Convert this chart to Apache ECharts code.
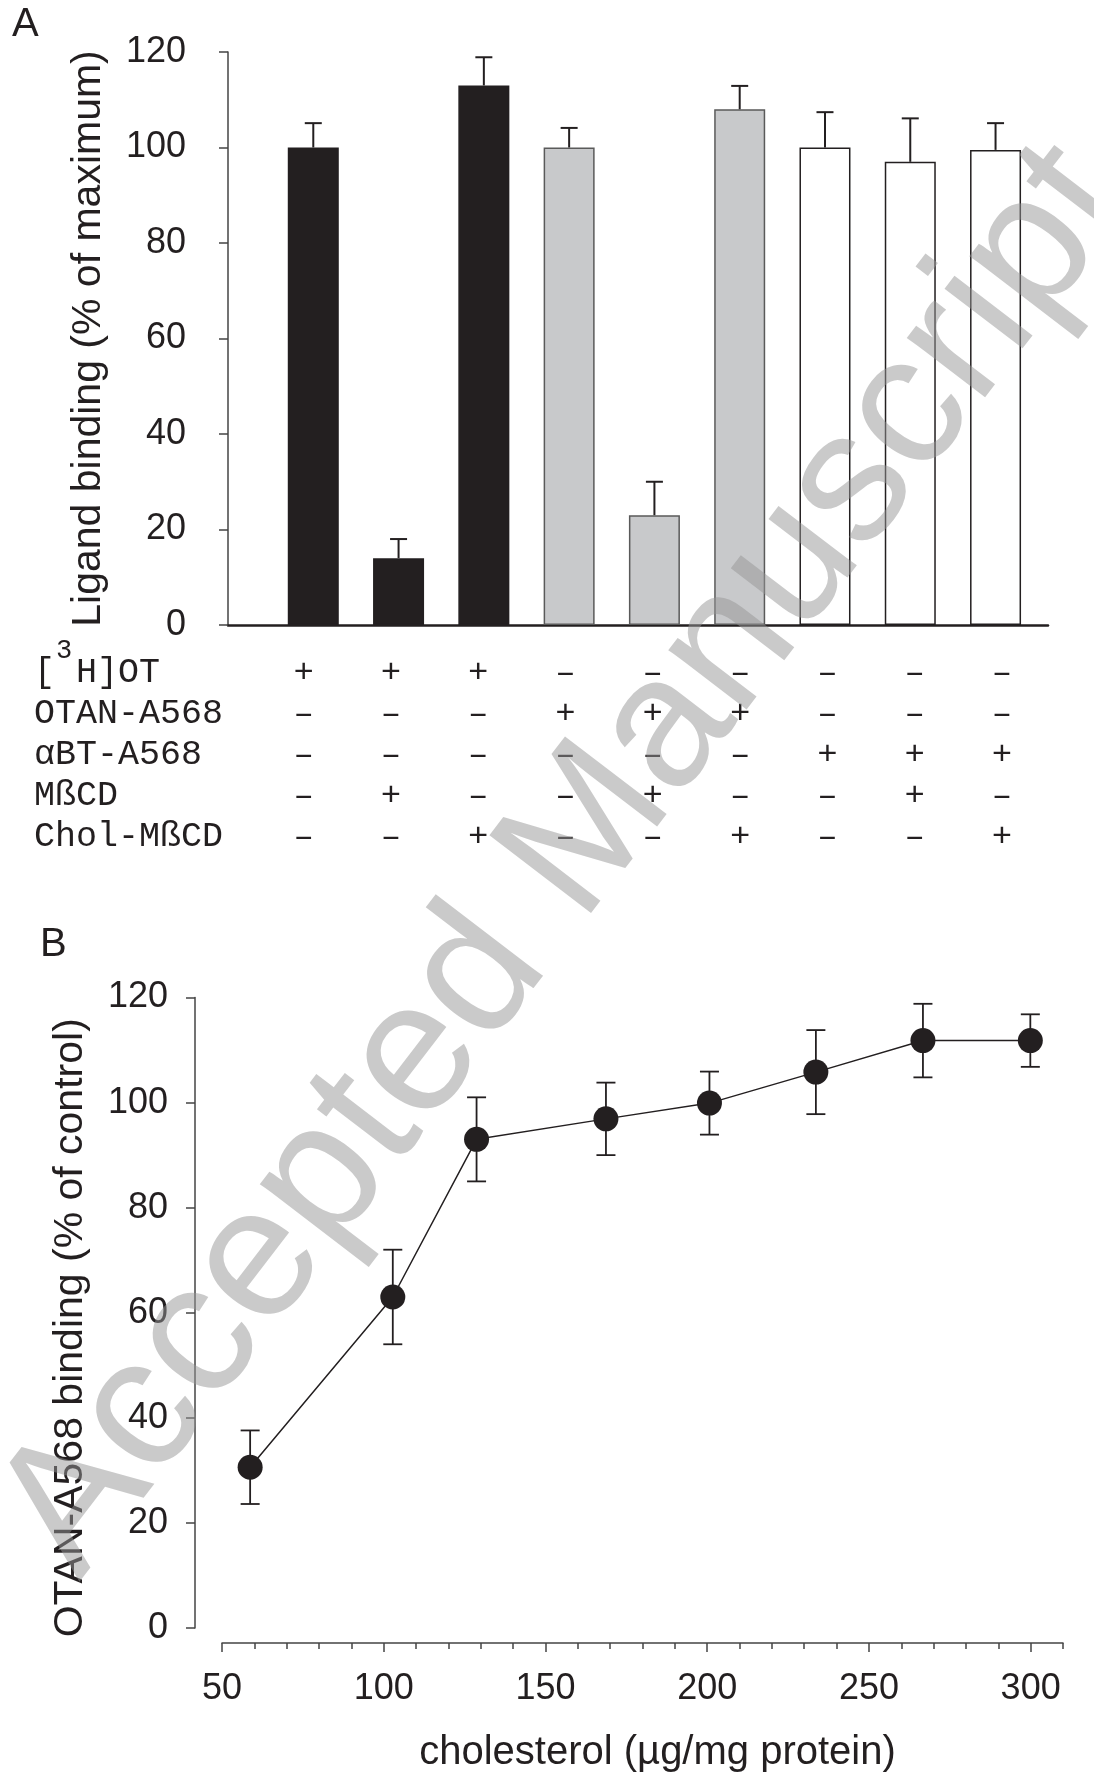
<!DOCTYPE html>
<html><head><meta charset="utf-8">
<script src="https://cdn.jsdelivr.net/npm/echarts@6/dist/echarts.min.js"></script>
<style>html,body{margin:0;padding:0;background:#fff}#c{width:1094px;height:1777px}</style>
</head><body><div id="c"></div>
<script>
// ---------- Panel A data ----------
const conditionLabels = ['[3H]OT', 'OTAN-A568', 'αBT-A568', 'MßCD', 'Chol-MßCD'];
const conditions = [
  ['+', '+', '+', '–', '–', '–', '–', '–', '–'],
  ['–', '–', '–', '+', '+', '+', '–', '–', '–'],
  ['–', '–', '–', '–', '–', '–', '+', '+', '+'],
  ['–', '+', '–', '–', '+', '–', '–', '+', '–'],
  ['–', '–', '+', '–', '–', '+', '–', '–', '+']
];
const barPositions = [1, 2, 3, 4, 5, 6, 7, 8, 9];
const bindingA = [100, 14, 113, 100, 23, 108, 100, 97, 99.5];
const semA = [5.1, 4.0, 5.9, 4.1, 7.0, 4.9, 7.4, 9.1, 5.6];
const yTicksA = [0, 20, 40, 60, 80, 100, 120];

// ---------- Panel B data ----------
const cholesterol = [58.7, 102.8, 128.7, 168.7, 200.7, 233.6, 266.7, 299.9];
const bindingB = [30.6, 63.0, 93.0, 96.9, 99.9, 105.8, 111.8, 111.8];
const semB = [7.0, 9.0, 8.0, 6.9, 6.0, 8.0, 7.0, 5.0];
const xTicksB = [50, 100, 150, 200, 250, 300];
const yTicksB = [0, 20, 40, 60, 80, 100, 120];

// ---------- styling ----------
const INK = '#231f20';
const AX = '#444444';
const SANS = 'Liberation Sans, Arial, sans-serif';
const MONO = 'Liberation Mono, Courier New, monospace';
const ligandFill = ['#231f20', '#c8c9cb', '#ffffff'];
const ligandBorder = ['#231f20', '#5a5a5a', '#231f20'];
function ligandOf(i) {
  for (let r = 0; r < 3; r++) if (conditions[r][i] === '+') return r;
  return 0;
}

function errRender(capHalf, twoSided, lw) {
  return function (params, api) {
    const x = api.value(0), y = api.value(1), e = api.value(2);
    const top = api.coord([x, y + e]);
    const bot = api.coord([x, twoSided ? y - e : y]);
    const st = { stroke: INK, lineWidth: lw };
    const ch = [
      { type: 'line', shape: { x1: top[0], y1: top[1], x2: bot[0], y2: bot[1] }, style: st },
      { type: 'line', shape: { x1: top[0] - capHalf, y1: top[1], x2: top[0] + capHalf, y2: top[1] }, style: st }
    ];
    if (twoSided) ch.push({ type: 'line', shape: { x1: bot[0] - capHalf, y1: bot[1], x2: bot[0] + capHalf, y2: bot[1] }, style: st });
    return { type: 'group', children: ch };
  };
}

const rowY = [673, 714, 755, 796, 837];
const graphics = [
  { type: 'text', left: 12, top: 5, style: { text: 'A', fontSize: 40, fontFamily: SANS, fill: INK } },
  { type: 'text', left: 40, top: 925, style: { text: 'B', fontSize: 40, fontFamily: SANS, fill: INK } }
];
conditionLabels.forEach((lab, r) => {
  if (lab.indexOf('3') === 1 && lab[0] === '[') {
    graphics.push({ type: 'text', x: 34, y: rowY[r], style: { text: '[ ' + lab.slice(2), fontSize: 35, fontFamily: MONO, fill: INK, verticalAlign: 'middle', align: 'left' } });
    graphics.push({ type: 'text', x: 56, y: rowY[r] - 22, style: { text: '3', fontSize: 27, fontFamily: MONO, fill: INK, verticalAlign: 'middle', align: 'left' } });
  } else {
    graphics.push({ type: 'text', x: 34, y: rowY[r], style: { text: lab, fontSize: 35, fontFamily: MONO, fill: INK, verticalAlign: 'middle', align: 'left' } });
  }
});
graphics.push({
  type: 'text', x: 566, y: 861, rotation: 52.6 * Math.PI / 180, z: 100,
  style: { text: 'Accepted Manuscript', fontSize: 186, fontFamily: SANS, fill: 'rgba(150,150,150,0.5)', align: 'center', verticalAlign: 'middle' }
});

const option = {
  backgroundColor: '#ffffff',
  animation: false,
  grid: [
    { left: 228, top: 52, width: 820, height: 573 },
    { left: 222, top: 997.5, width: 841, height: 630.5 }
  ],
  xAxis: [
    {
      gridIndex: 0, type: 'value', position: 'bottom', min: 0, max: 9.615,
      axisLine: { show: true, onZero: false, lineStyle: { color: INK, width: 2.5 } },
      axisTick: { show: false }, axisLabel: { show: false }, splitLine: { show: false }
    },
    {
      // condition table under panel A (text only, aligned under the bars)
      gridIndex: 0, type: 'value', position: 'bottom', min: 0.134, max: 9.527,
      axisLine: { show: false, onZero: false }, axisTick: { show: false }, splitLine: { show: false },
      axisLabel: {
        show: true, customValues: barPositions, margin: 27, fontFamily: MONO, fontSize: 34, lineHeight: 41, color: INK,
        formatter: function (v) {
          const i = barPositions.indexOf(Math.round(v));
          if (i < 0) return '';
          return conditions.map(row => row[i]).join('\n');
        }
      }
    },
    {
      gridIndex: 1, type: 'value', position: 'bottom', min: 50, max: 310, interval: 50, offset: 15,
      axisLine: { show: true, onZero: false, lineStyle: { color: AX, width: 1.5 } },
      axisTick: { show: true, length: 9, customValues: xTicksB, lineStyle: { color: AX, width: 1.5 } },
      axisLabel: { customValues: xTicksB, margin: 28, fontSize: 36, fontFamily: SANS, color: INK },
      splitLine: { show: false },
      name: 'cholesterol (µg/mg protein)', nameLocation: 'middle', nameGap: 90,
      nameTextStyle: { fontSize: 40, fontFamily: SANS, color: INK, padding: [0, 0, 0, 30] }
    },
    {
      gridIndex: 1, type: 'value', position: 'bottom', min: 50, max: 310, interval: 10, offset: 15,
      axisLine: { show: false, onZero: false },
      axisTick: { show: true, length: 6, lineStyle: { color: AX, width: 1.5 } },
      axisLabel: { show: false }, splitLine: { show: false }
    }
  ],
  yAxis: [
    {
      gridIndex: 0, type: 'value', min: 0, max: 120, interval: 20, offset: 16,
      axisLine: { show: true, lineStyle: { color: AX, width: 1.5 } },
      axisTick: { show: true, length: 9, customValues: yTicksA, lineStyle: { color: AX, width: 1.5 } },
      axisLabel: { customValues: yTicksA, margin: 26, fontSize: 36, fontFamily: SANS, color: INK },
      splitLine: { show: false },
      name: 'Ligand binding (% of maximum)', nameLocation: 'middle', nameRotate: 90, nameGap: 103,
      nameTextStyle: { fontSize: 41, fontFamily: SANS, color: INK }
    },
    {
      gridIndex: 1, type: 'value', min: 0, max: 120, interval: 20, offset: 27,
      axisLine: { show: true, lineStyle: { color: AX, width: 1.5 } },
      axisTick: { show: true, length: 9, customValues: yTicksB, lineStyle: { color: AX, width: 1.5 } },
      axisLabel: { customValues: yTicksB, margin: 27, fontSize: 36, fontFamily: SANS, color: INK },
      splitLine: { show: false },
      name: 'OTAN-A568 binding (% of control)', nameLocation: 'middle', nameRotate: 90, nameGap: 104,
      nameTextStyle: { fontSize: 41, fontFamily: SANS, color: INK, padding: [0, 30, 0, 0] }
    }
  ],
  series: [
    {
      type: 'bar', xAxisIndex: 0, yAxisIndex: 0, barWidth: 51, z: 2,
      data: bindingA.map((v, i) => ({
        value: [barPositions[i], v],
        itemStyle: { color: ligandFill[ligandOf(i)], borderColor: ligandBorder[ligandOf(i)], borderWidth: 1.5 }
      }))
    },
    {
      type: 'custom', xAxisIndex: 0, yAxisIndex: 0, z: 3,
      renderItem: errRender(8.5, false, 2),
      encode: { x: 0, y: 1 },
      data: bindingA.map((v, i) => [barPositions[i], v, semA[i]])
    },
    {
      type: 'custom', xAxisIndex: 2, yAxisIndex: 1, z: 2,
      renderItem: errRender(9.5, true, 1.8),
      encode: { x: 0, y: 1 },
      data: bindingB.map((v, i) => [cholesterol[i], v, semB[i]])
    },
    {
      type: 'line', xAxisIndex: 2, yAxisIndex: 1, z: 4,
      symbol: 'circle', symbolSize: 25,
      itemStyle: { color: INK },
      lineStyle: { color: INK, width: 1.5 },
      data: cholesterol.map((x, i) => [x, bindingB[i]])
    }
  ],
  graphic: graphics
};
const chart = echarts.init(document.getElementById('c'), null, { renderer: 'canvas' });
chart.setOption(option);
</script>
</body></html>
